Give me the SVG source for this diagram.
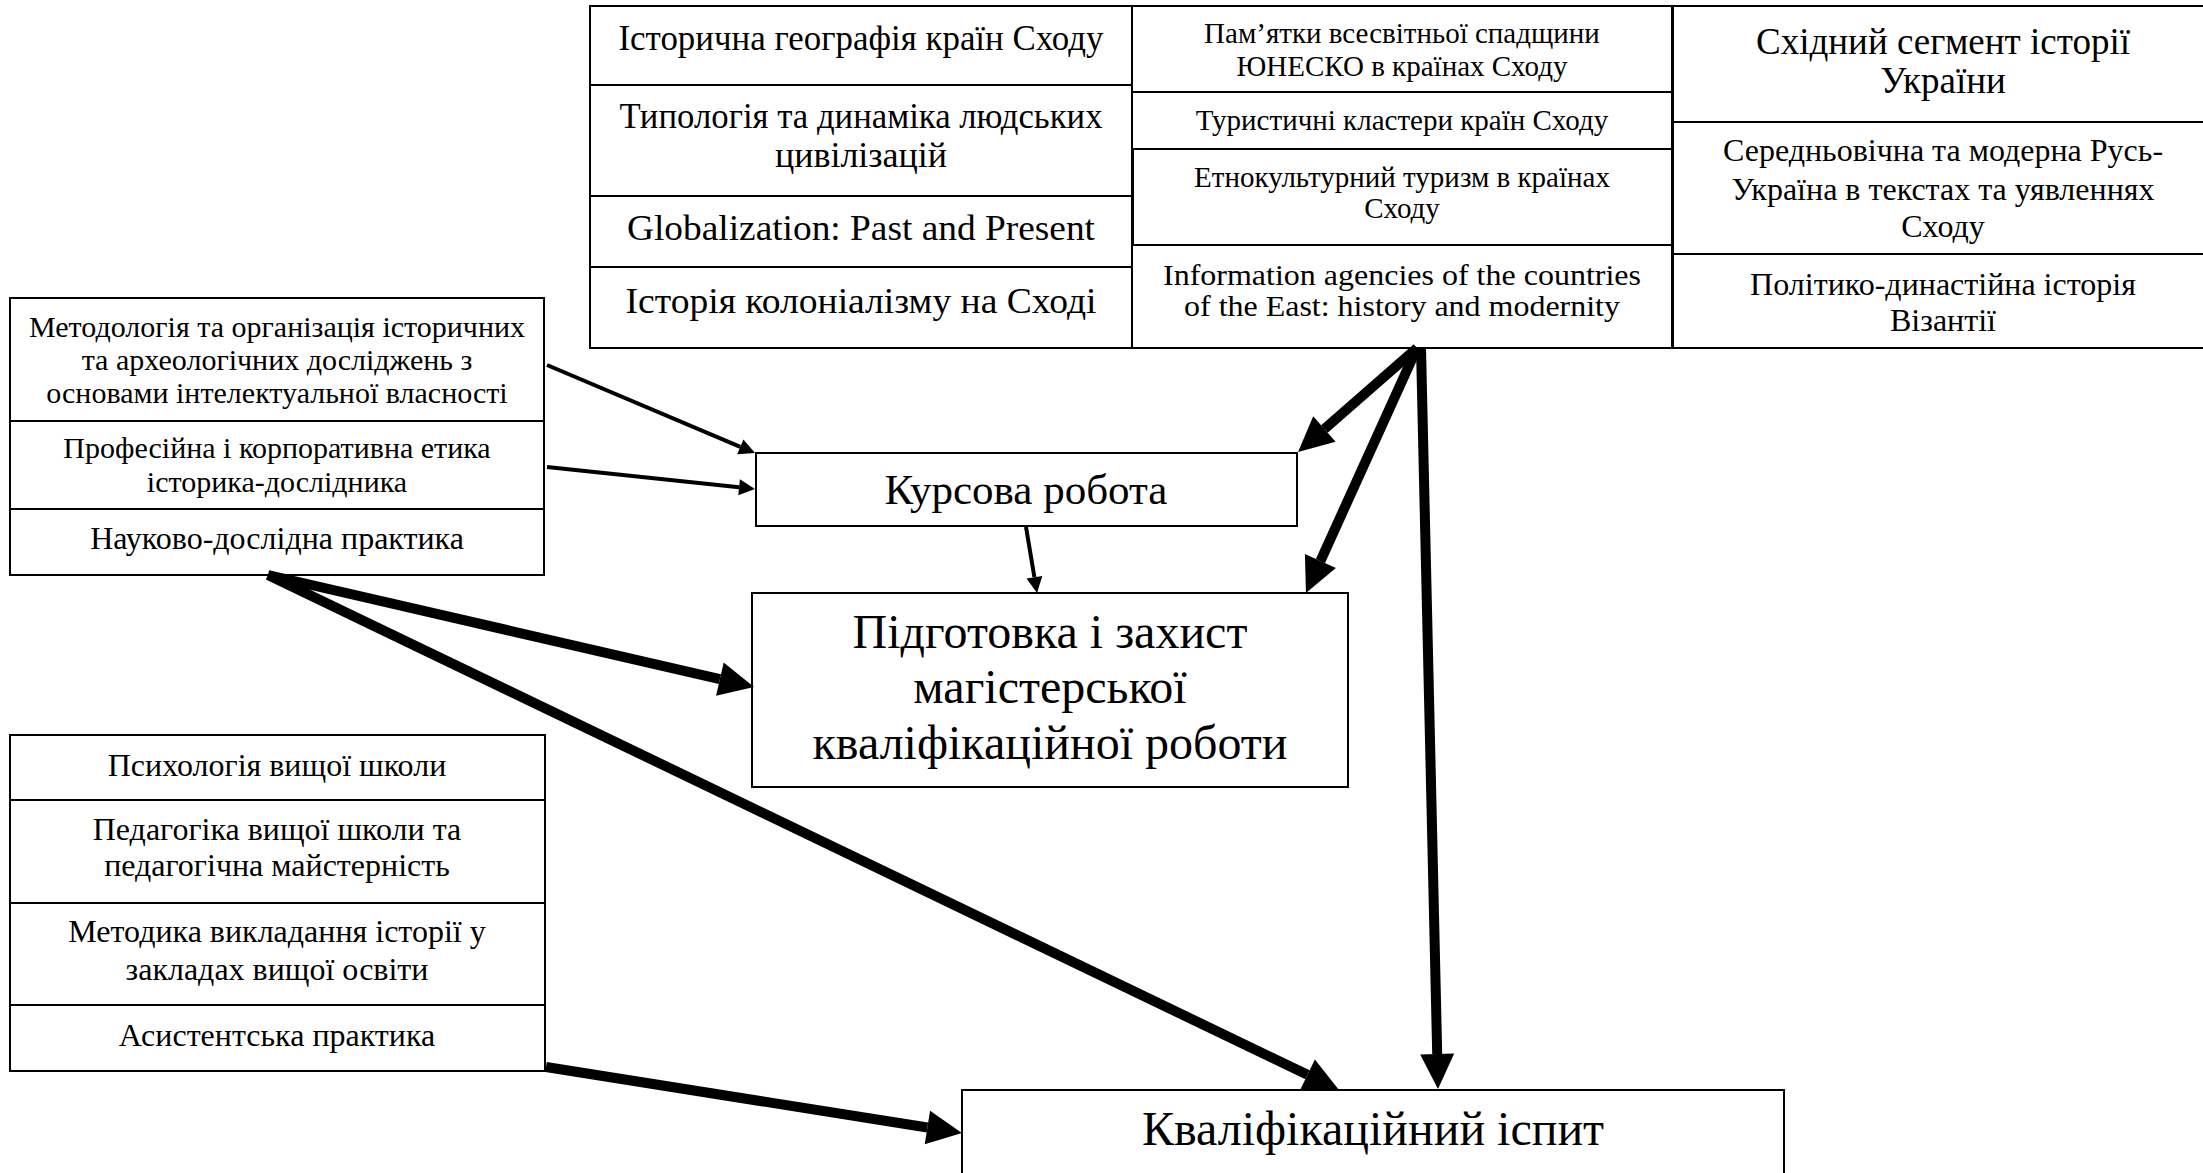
<svg xmlns="http://www.w3.org/2000/svg" width="2203" height="1173" viewBox="0 0 2203 1173">
<style>
.box{fill:#fff;stroke:#000;stroke-width:2}
.t{font-family:"Liberation Serif","Times New Roman",serif;text-anchor:middle;fill:#000}
.s29{font-size:29px}.s30{font-size:30px}.s32{font-size:32px}.s36{font-size:36px}.s37{font-size:37px}
.s43{font-size:43px}.s48{font-size:48px}
.thick{stroke:#000;stroke-width:10;fill:none;marker-end:url(#big)}
.thin{stroke:#000;stroke-width:4;fill:none;marker-end:url(#small)}
</style>
<defs>
<marker id="big" markerUnits="userSpaceOnUse" markerWidth="36" markerHeight="36" refX="0" refY="17" orient="auto" overflow="visible">
<path d="M0,0 L35,17 L0,34 z" fill="#000"/>
</marker>
<marker id="small" markerUnits="userSpaceOnUse" markerWidth="18" markerHeight="18" refX="0" refY="8" orient="auto" overflow="visible">
<path d="M0,0 L16,8 L0,16 z" fill="#000"/>
</marker>
</defs>
<rect width="2203" height="1173" fill="#fff"/>

<g id="n_hist_geo"><rect class="box" x="590" y="6" width="542" height="79"/><text class="t s36" x="861" y="50" textLength="485" lengthAdjust="spacingAndGlyphs">Історична географія країн Сходу</text></g>
<g id="n_typology"><rect class="box" x="590" y="85" width="542" height="111"/><text class="t s36" x="861" y="128" textLength="483" lengthAdjust="spacingAndGlyphs">Типологія та динаміка людських</text><text class="t s36" x="861" y="167">цивілізацій</text></g>
<g id="n_global"><rect class="box" x="590" y="196" width="542" height="71"/><text class="t s36" x="861" y="240" textLength="468" lengthAdjust="spacingAndGlyphs">Globalization: Past and Present</text></g>
<g id="n_colonial"><rect class="box" x="590" y="267" width="542" height="81"/><text class="t s36" x="861" y="313" textLength="471" lengthAdjust="spacingAndGlyphs">Історія колоніалізму на Сході</text></g>

<g id="n_unesco"><rect class="box" x="1132" y="6" width="540" height="86"/><text class="t s29" x="1402" y="43">Пам’ятки всесвітньої спадщини</text><text class="t s29" x="1402" y="76">ЮНЕСКО в країнах Сходу</text></g>
<g id="n_tourism"><rect class="box" x="1132" y="92" width="540" height="57"/><text class="t s29" x="1402" y="130">Туристичні кластери країн Сходу</text></g>
<g id="n_ethno"><rect class="box" x="1133" y="149" width="539" height="96"/><text class="t s29" x="1402" y="187">Етнокультурний туризм в країнах</text><text class="t s29" x="1402" y="218">Сходу</text></g>
<g id="n_info"><rect class="box" x="1132" y="245" width="540" height="103"/><text class="t s30" x="1402" y="285" textLength="478" lengthAdjust="spacingAndGlyphs">Information agencies of the countries</text><text class="t s30" x="1402" y="316" textLength="436" lengthAdjust="spacingAndGlyphs">of the East: history and modernity</text></g>

<g id="n_east_segment"><rect class="box" x="1673" y="6" width="545" height="116"/><text class="t s37" x="1943" y="54">Східний сегмент історії</text><text class="t s37" x="1943" y="93">України</text></g>
<g id="n_rus"><rect class="box" x="1673" y="122" width="545" height="132"/><text class="t s32" x="1943" y="161">Середньовічна та модерна Русь-</text><text class="t s32" x="1943" y="200">Україна в текстах та уявленнях</text><text class="t s32" x="1943" y="237">Сходу</text></g>
<g id="n_byzantium"><rect class="box" x="1673" y="254" width="545" height="94"/><text class="t s32" x="1943" y="295">Політико-династійна історія</text><text class="t s32" x="1943" y="331">Візантії</text></g>

<g id="n_methodology"><rect class="box" x="10" y="298" width="534" height="123"/><text class="t s30" x="277" y="337">Методологія та організація історичних</text><text class="t s30" x="277" y="370">та археологічних досліджень з</text><text class="t s30" x="277" y="403">основами інтелектуальної власності</text></g>
<g id="n_ethics"><rect class="box" x="10" y="421" width="534" height="88"/><text class="t s30" x="277" y="458">Професійна і корпоративна етика</text><text class="t s30" x="277" y="492">історика-дослідника</text></g>
<g id="n_research_practice"><rect class="box" x="10" y="509" width="534" height="66"/><text class="t s32" x="277" y="549">Науково-дослідна практика</text></g>

<g id="n_psychology"><rect class="box" x="10" y="735" width="535" height="65"/><text class="t s32" x="277" y="776">Психологія вищої школи</text></g>
<g id="n_pedagogy"><rect class="box" x="10" y="800" width="535" height="103"/><text class="t s32" x="277" y="840">Педагогіка вищої школи та</text><text class="t s32" x="277" y="876">педагогічна майстерність</text></g>
<g id="n_teaching"><rect class="box" x="10" y="903" width="535" height="102"/><text class="t s32" x="277" y="942">Методика викладання історії у</text><text class="t s32" x="277" y="980">закладах вищої освіти</text></g>
<g id="n_assistant"><rect class="box" x="10" y="1005" width="535" height="66"/><text class="t s32" x="277" y="1046">Асистентська практика</text></g>

<g id="n_coursework"><rect class="box" x="756" y="453" width="541" height="73"/><text class="t s43" x="1026" y="504">Курсова робота</text></g>
<g id="n_thesis"><rect class="box" x="752" y="593" width="596" height="194"/><text class="t s48" x="1050" y="648">Підготовка і захист</text><text class="t s48" x="1050" y="703">магістерської</text><text class="t s48" x="1050" y="759">кваліфікаційної роботи</text></g>
<g id="n_exam"><rect class="box" x="962" y="1090" width="822" height="100"/><text class="t s48" x="1373" y="1145">Кваліфікаційний іспит</text></g>

<g id="connectors">
<line class="thin" x1="547" y1="365" x2="740.3" y2="446.8"/>
<line class="thin" x1="547" y1="467" x2="739.1" y2="487.3"/>
<line class="thin" x1="1026" y1="527" x2="1034.4" y2="577.2"/>
<line class="thick" x1="1417" y1="348" x2="1324.4" y2="429"/>
<line class="thick" x1="1417" y1="348" x2="1320.4" y2="561.1"/>
<line class="thick" x1="1421" y1="348" x2="1437.2" y2="1054"/>
<line class="thick" x1="268" y1="575" x2="719.9" y2="679.1"/>
<line class="thick" x1="268" y1="575" x2="1307.5" y2="1074.8"/>
<line class="thick" x1="546" y1="1067" x2="927.4" y2="1127.5"/>
</g>
</svg>
